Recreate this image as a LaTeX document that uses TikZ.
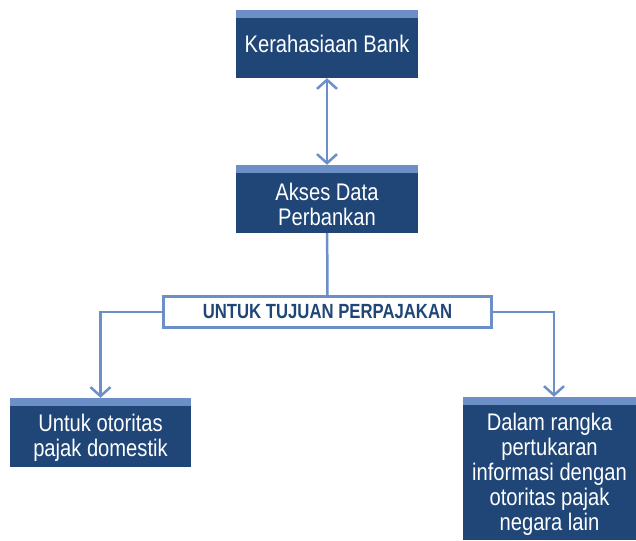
\documentclass[tikz,border=0pt]{standalone}
\usepackage{fontspec}
\setmainfont{Liberation Sans}[FakeStretch=0.84]
\newfontfamily\labelfont{Liberation Sans}[FakeStretch=0.815]
\usepackage{xcolor}
\usepackage{tikz}
\usetikzlibrary{arrows.meta,positioning}
\definecolor{navy}{HTML}{1F4677}
\definecolor{lightblue}{HTML}{6C8FC7}
\newcommand\boxgap[1]{\rule{0pt}{#1}}

\begin{document}
\begin{tikzpicture}[x=1pt, y=-1pt,
  databox/.style={rectangle, fill=navy, text=white, inner sep=0pt, align=center,
    font=\fontsize{24}{25}\selectfont,
    path picture={\fill[lightblue] (path picture bounding box.north west) rectangle ([yshift=-8pt]path picture bounding box.north east);}},
  purpose/.style={rectangle, draw=lightblue, line width=3pt, fill=white, minimum width=328pt, minimum height=31pt,
    font=\labelfont\bfseries\fontsize{20.5}{21}\selectfont, text=navy},
  link/.style={draw=lightblue, line width=2.5pt},
  arrow/.style={link, -{Straight Barb[length=9pt,width=20pt]}}
]
\useasboundingbox (0,0) rectangle (636,540);

\node[databox, minimum width=182pt, minimum height=68pt] (bank) at (327,44) {Kerahasiaan Bank};
\node[databox, minimum width=182pt, minimum height=68pt] (akses) at (327,199) {\boxgap{27.5pt}Akses Data\\Perbankan};
\node[purpose] (tujuan) at (327.5,312) {UNTUK TUJUAN PERPAJAKAN};
\node[databox, minimum width=181pt, minimum height=69pt] (domestik) at (100.5,432.5) {\boxgap{27.5pt}Untuk otoritas\\pajak domestik};
\node[databox, minimum width=173pt, minimum height=143pt] (asing) at (549.5,468.5) {\boxgap{29.5pt}Dalam rangka\\pertukaran\\informasi dengan\\otoritas pajak\\negara lain};

\draw[link, {Straight Barb[length=9pt,width=20pt]}-{Straight Barb[length=9pt,width=20pt]}] (bank) -- (akses);
\draw[link] (akses) -- (tujuan);
\draw[arrow] (tujuan.west) -| (domestik.north);
\draw[arrow] (tujuan.east) -| ([xshift=4.5pt]asing.north);
\end{tikzpicture}
\end{document}
